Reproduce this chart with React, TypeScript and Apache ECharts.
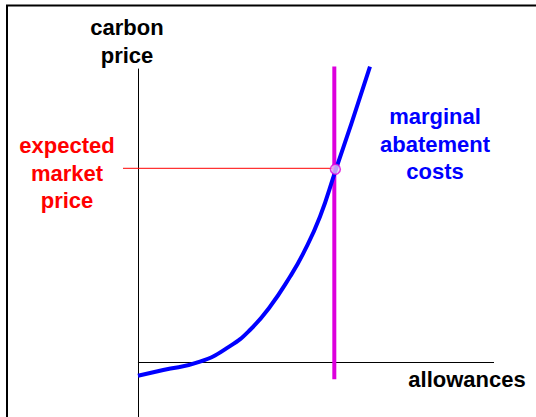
import React, { useEffect, useRef } from "react";
import * as echarts from "echarts";

// Marginal abatement cost curve (x: allowances, y: carbon price), arbitrary units
const macCurve: [number, number][] = [
  [0, -2.7],
  [7.1, -1.53],
  [17.42, 0.16],
  [25.84, 3.35],
  [31.46, 6.65],
  [37.08, 11.41],
  [42.7, 17.54],
  [46.43, 22.32],
  [51.12, 29.8],
  [55.53, 39.35],
  [59.97, 48.9],
  [65.17, 60.47],
];
const allowanceCap = 55.15;
const capRange: [number, number] = [60.5, -3.4];
const expectedPrice = 39.7;
const marketPoint: [number, number] = [55.45, 39.5];
const priceLineStart = -4.2;
const axisStart = 0;
const axisEnd = 100;

const yTitle = ["carbon", "price"];
const xTitle = "allowances";
const priceLabel = ["expected", "market", "price"];
const curveLabel = ["marginal", "abatement", "costs"];

const FONT = '"Liberation Sans", Arial, Helvetica, sans-serif';

export default function App() {
  const ref = useRef<HTMLDivElement>(null);
  useEffect(() => {
    if (!ref.current) return;
    const chart = echarts.init(ref.current, null, { renderer: "svg" });
    const txt = (lines: string[], x: number, y: number, color: string, lh: number) => ({
      type: "text",
      x,
      y,
      style: {
        text: lines.join("\n"),
        fill: color,
        font: `bold 22px ${FONT}`,
        align: "center",
        verticalAlign: "top",
        lineHeight: lh,
      },
      z: 10,
    });
    chart.setOption({
      animation: false,
      backgroundColor: "#ffffff",
      grid: { left: 123, right: 42, top: 69, bottom: 0 },
      xAxis: {
        type: "value",
        min: priceLineStart,
        max: axisEnd,
        axisLine: { show: false },
        axisTick: { show: false },
        axisLabel: { show: false },
        splitLine: { show: false },
      },
      yAxis: {
        type: "value",
        min: -11.14,
        max: 60,
        axisLine: { show: true, onZero: true, lineStyle: { color: "#000", width: 1 } },
        axisTick: { show: false },
        axisLabel: { show: false },
        splitLine: { show: false },
      },
      series: [
        {
          type: "line",
          data: [
            [axisStart, 0],
            [axisEnd, 0],
          ],
          symbol: "none",
          clip: false,
          lineStyle: { color: "#000", width: 1.2 },
          z: 1,
        },
        {
          type: "line",
          data: [
            [priceLineStart, expectedPrice],
            [allowanceCap, expectedPrice],
          ],
          symbol: "none",
          clip: false,
          lineStyle: { color: "#ff0000", width: 1 },
          z: 2,
        },
        {
          type: "line",
          data: [
            [allowanceCap, capRange[0]],
            [allowanceCap, capRange[1]],
          ],
          symbol: "none",
          clip: false,
          lineStyle: { color: "#dd00dd", width: 4 },
          z: 3,
        },
        {
          type: "line",
          data: macCurve,
          smooth: 0.5,
          symbol: "none",
          clip: false,
          lineStyle: { color: "#0000ff", width: 4 },
          z: 4,
        },
        {
          type: "scatter",
          data: [marketPoint],
          symbol: "circle",
          symbolSize: 10,
          itemStyle: { color: "#e8c8f4", borderColor: "#dd00dd", borderWidth: 1.5 },
          z: 5,
        },
      ],
      graphic: [
        {
          type: "rect",
          shape: { x: 7, y: 5.5, width: 800, height: 800 },
          style: { fill: "none", stroke: "#000", lineWidth: 2 },
          z: 0,
        },
        txt(yTitle, 127, 13, "#000", 28),
        txt(priceLabel, 67, 132, "#ff0000", 27.5),
        txt(curveLabel, 435, 103, "#0000ff", 27.5),
        txt([xTitle], 467, 365, "#000", 28),
      ],
    });
    return () => chart.dispose();
  }, []);
  return (
    <div
      ref={ref}
      style={{ position: "fixed", left: 0, top: 0, width: 536, height: 417, background: "#fff" }}
    />
  );
}
